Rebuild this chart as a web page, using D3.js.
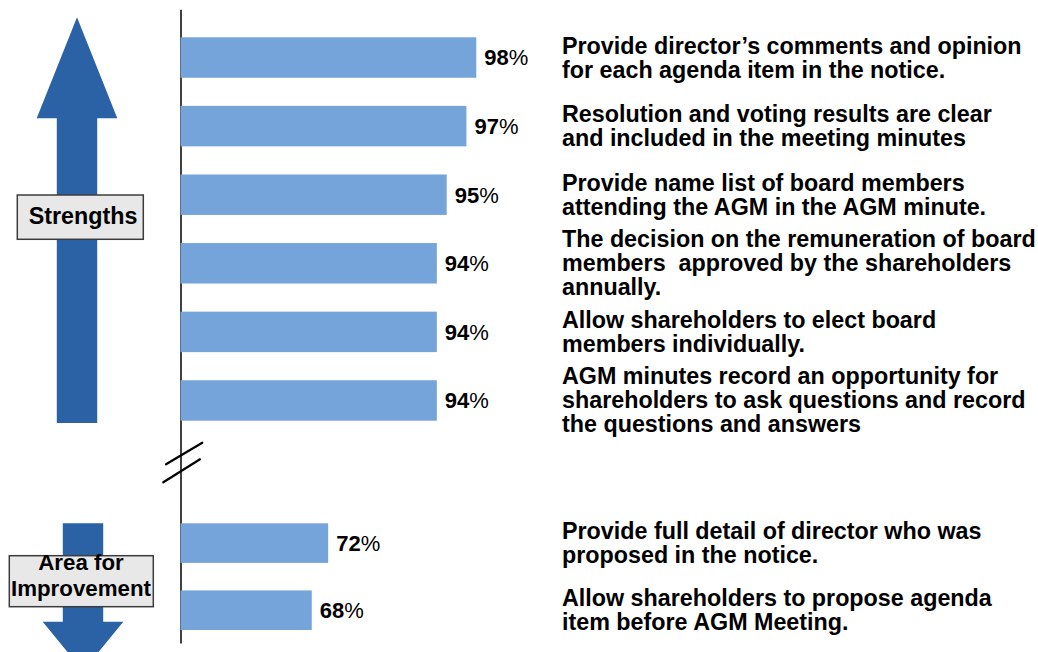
<!DOCTYPE html>
<html>
<head>
<meta charset="utf-8">
<script src="https://cdn.jsdelivr.net/npm/d3@7"></script>
<style>
  body { margin: 0; background: #fff; }
  svg { display: block; }
  text { font-family: "Liberation Sans", Arial, sans-serif; }
</style>
</head>
<body>
<svg id="chart" width="1038" height="652"></svg>
<script>
// Survey items scoring high (strengths) and low (areas for improvement)
const strengthItems = [
  "Provide director\u2019s comments and opinion\nfor each agenda item in the notice.",
  "Resolution and voting results are clear\nand included in the meeting minutes",
  "Provide name list of board members\nattending the AGM in the AGM minute.",
  "The decision on the remuneration of board\nmembers  approved by the shareholders\nannually.",
  "Allow shareholders to elect board\nmembers individually.",
  "AGM minutes record an opportunity for\nshareholders to ask questions and record\nthe questions and answers"
];
const strengthValues = [98, 97, 95, 94, 94, 94];

const improvementItems = [
  "Provide full detail of director who was\nproposed in the notice.",
  "Allow shareholders to propose agenda\nitem before AGM Meeting."
];
const improvementValues = [72, 68];

const sectionLabels = ["Strengths", "Area for\nImprovement"];

const BAR = "#75A4DB", ARROW = "#2B62A6";
const svg = d3.select("#chart");
const axisX = 180.5;

// Two panels separated by an axis break, each with its own value scale
const panels = [
  {
    items: strengthItems, values: strengthValues,
    y: d3.scaleBand().domain(strengthItems).range([37.3, 420.7]).paddingInner(0.41),
    x: d3.scaleLinear().domain([68, 100]).range([axisX, 496])
  },
  {
    items: improvementItems, values: improvementValues,
    y: d3.scaleBand().domain(improvementItems).range([523.3, 630]).paddingInner(0.41),
    x: d3.scaleLinear().domain([36, 100]).range([axisX, 443])
  }
];

// Direction arrows
const up = { cx: 77, tip: 17.3, headBase: 118.3, headHalf: 40.3, shaftHalf: 20.2, end: 423 };
svg.append("path").attr("fill", ARROW).attr("d", [
  [up.cx, up.tip], [up.cx + up.headHalf, up.headBase], [up.cx + up.shaftHalf, up.headBase],
  [up.cx + up.shaftHalf, up.end], [up.cx - up.shaftHalf, up.end], [up.cx - up.shaftHalf, up.headBase],
  [up.cx - up.headHalf, up.headBase]
].map((p, i) => (i ? "L" : "M") + p).join("") + "Z");

const dn = { cx: 83, start: 523.3, headBase: 621.7, headHalf: 40.3, shaftHalf: 20.2, tip: 671 };
svg.append("path").attr("fill", ARROW).attr("d", [
  [dn.cx - dn.shaftHalf, dn.start], [dn.cx + dn.shaftHalf, dn.start], [dn.cx + dn.shaftHalf, dn.headBase],
  [dn.cx + dn.headHalf, dn.headBase], [dn.cx, dn.tip], [dn.cx - dn.headHalf, dn.headBase],
  [dn.cx - dn.shaftHalf, dn.headBase]
].map((p, i) => (i ? "L" : "M") + p).join("") + "Z");

// Section label boxes
const boxes = [
  { x: 17.3, y: 195, w: 126, h: 44.3, cx: 83, base: 224, lh: 26, fs: 23.3 },
  { x: 9.3, y: 555.7, w: 144, h: 51, cx: 81, base: 570, lh: 26, fs: 22.3 }
];
boxes.forEach((b, i) => {
  svg.append("rect").attr("x", b.x).attr("y", b.y).attr("width", b.w).attr("height", b.h)
    .attr("fill", "#E8E8E8").attr("stroke", "#3C3C3C").attr("stroke-width", 1.5);
  const t = svg.append("text").attr("text-anchor", "middle").attr("font-size", b.fs)
    .attr("font-weight", "bold").attr("fill", "#000");
  sectionLabels[i].split("\n").forEach((line, j) => {
    t.append("tspan").attr("x", b.cx).attr("y", b.base + j * b.lh).text(line);
  });
});

// Vertical category axis (no ticks) with break marks
const yAll = d3.scaleLinear().domain([0, 1]).range([9.3, 643]);
svg.append("g").attr("transform", `translate(${axisX},0)`)
  .call(d3.axisLeft(yAll).tickValues([]).tickSizeOuter(0))
  .call(g => g.select(".domain").attr("stroke", "#000").attr("stroke-width", 1.5));

[[166, 464.3, 202.3, 442.7], [163.3, 482.3, 200, 459.3]].forEach(([x1, y1, x2, y2]) => {
  svg.append("line").attr("x1", x1).attr("y1", y1).attr("x2", x2).attr("y2", y2)
    .attr("stroke", "#000").attr("stroke-width", 2.2).attr("stroke-linecap", "round");
});

// Bars, value labels and item descriptions
panels.forEach(p => {
  const bw = p.y.bandwidth();
  const rows = p.items.map((item, i) => ({ item, value: p.values[i] }));

  svg.append("g").selectAll("rect").data(rows).join("rect")
    .attr("x", p.x(p.x.domain()[0]))
    .attr("y", d => p.y(d.item))
    .attr("width", d => p.x(d.value) - p.x(p.x.domain()[0]))
    .attr("height", bw)
    .attr("fill", BAR);

  const lbl = svg.append("g").selectAll("text").data(rows).join("text")
    .attr("x", d => p.x(d.value) + 8)
    .attr("y", d => p.y(d.item) + bw / 2)
    .attr("dy", "0.36em")
    .attr("font-size", 22).attr("fill", "#000");
  lbl.append("tspan").attr("font-weight", "bold").text(d => d.value);
  lbl.append("tspan").text("%");

  const lh = 24;
  svg.append("g").selectAll("text").data(rows).join("text")
    .attr("font-size", 23.3).attr("font-weight", "bold").attr("fill", "#000")
    .style("white-space", "pre")
    .each(function (d) {
      const lines = d.item.split("\n");
      const c = p.y(d.item) + bw / 2;
      const first = c - (lines.length - 1) * lh / 2 + 8;
      lines.forEach((line, j) => {
        d3.select(this).append("tspan").attr("x", 562).attr("y", first + j * lh).text(line);
      });
    });
});
</script>
</body>
</html>
